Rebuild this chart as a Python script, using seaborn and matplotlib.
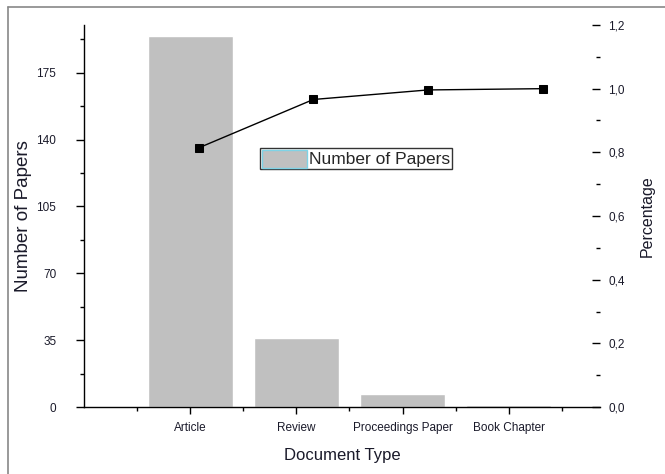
import numpy as np
import pandas as pd
import matplotlib
matplotlib.use("Agg")
import matplotlib.pyplot as plt
import seaborn as sns
from matplotlib.ticker import MultipleLocator, FuncFormatter
from matplotlib.lines import Line2D

# data
doc_types = ["Article", "Review", "Proceedings Paper", "Book Chapter"]
num_papers = [194, 36, 7, 1]
cum_pct = [0.814, 0.966, 0.996, 1.0]

sns.set_theme(style="white")
plt.rcParams["font.family"] = ["Liberation Sans", "DejaVu Sans"]

df = pd.DataFrame({"doc_type": doc_types, "papers": num_papers, "cum": cum_pct})

fig = plt.figure(figsize=(6.65, 4.74), dpi=100)
ax = fig.add_axes([84 / 665, 1 - 407 / 474, (600 - 84) / 665, (407 - 25) / 474])

sns.barplot(data=df, x="doc_type", y="papers", color="#c0c0c0", width=0.8,
            saturation=1, ax=ax, label="Number of Papers")
ax.set_xlim(-1.0, 3.86)
ax.set_ylim(0, 200)
ax.yaxis.set_major_locator(MultipleLocator(35))
ax.yaxis.set_minor_locator(MultipleLocator(17.5))
ax.xaxis.set_minor_locator(MultipleLocator(1, offset=0.5))
for s in ["top", "right"]:
    ax.spines[s].set_visible(False)
for s in ["left", "bottom"]:
    ax.spines[s].set_color("black")
    ax.spines[s].set_linewidth(1.0)
ax.tick_params(axis="both", which="major", direction="out", length=6, width=1,
               color="black", labelsize=8.5, labelcolor="#1a1a2a",
               bottom=True, left=True)
ax.tick_params(axis="both", which="minor", direction="out", length=3, width=1,
               color="black", bottom=True, left=True)
ax.tick_params(axis="x", which="major", length=5, pad=6)
ax.tick_params(axis="y", which="major", pad=14)
ax.set_xlabel("Document Type", fontsize=12, color="#1a1a2a", labelpad=10)
ax.set_ylabel("Number of Papers", fontsize=13.5, color="#1a1a2a", labelpad=3)

leg = ax.legend(loc="upper left", bbox_to_anchor=((260 - 84) / 516, (407 - 148) / 382),
                frameon=True, fancybox=False, fontsize=12.5, handlelength=2.6,
                handleheight=1.2, borderpad=0.1, handletextpad=0.15,
                borderaxespad=0)
leg.get_frame().set_edgecolor("black")
leg.get_frame().set_linewidth(1.0)
for h in leg.legend_handles:
    h.set_edgecolor("#7fd3e6")
    h.set_linewidth(1.0)

# line on its own overlaid axis (categories spaced differently than bars)
ax2 = fig.add_axes(ax.get_position(), frameon=False)
ax2.set_xlim(-1.0, 3.5)
sns.lineplot(x=np.arange(len(doc_types)), y=df["cum"], ax=ax2, color="black",
             marker="s", markersize=6, linewidth=1.0, markeredgecolor="black")
ax2.set_ylim(0, 1.2)
ax2.set_xticks([])
ax2.set_xlabel("")
ax2.yaxis.tick_right()
ax2.yaxis.set_label_position("right")
ax2.spines["right"].set_visible(True)
ax2.spines["right"].set_color("black")
ax2.spines["right"].set_linewidth(1.0)
for s in ["top", "left", "bottom"]:
    ax2.spines[s].set_visible(False)
ax2.yaxis.set_major_locator(MultipleLocator(0.2))
ax2.yaxis.set_minor_locator(MultipleLocator(0.1))
ax2.yaxis.set_major_formatter(FuncFormatter(lambda v, p: f"{v:.1f}".replace(".", ",")))
ax2.tick_params(axis="y", which="major", direction="in", length=6, width=1,
                color="black", labelsize=8.5, labelcolor="#1a1a2a", right=True, pad=6)
ax2.tick_params(axis="y", which="minor", direction="in", length=3, width=1,
                color="black", right=True)
ax2.set_ylabel("Percentage", fontsize=11.5, color="#1a1a2a", labelpad=11)

# outer frame of the original image (left and top edges)
fig.add_artist(Line2D([8 / 665, 8 / 665], [0, 1 - 7 / 474], color="#888888", lw=1.2))
fig.add_artist(Line2D([8 / 665, 1], [1 - 7 / 474, 1 - 7 / 474], color="#888888", lw=1.2))

fig.savefig("out.png", dpi=100)
